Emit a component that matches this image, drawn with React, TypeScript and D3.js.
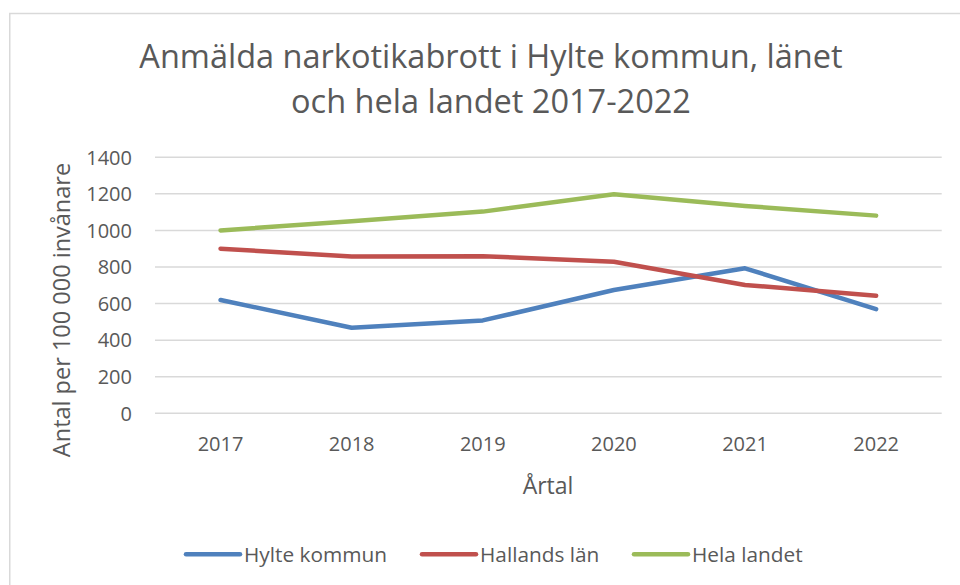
import React from "react";
import * as d3 from "d3";

const years = ["2017", "2018", "2019", "2020", "2021", "2022"];
const hylte = [620, 468, 508, 674, 793, 570];
const hallands = [900, 857, 859, 829, 702, 643];
const helaLandet = [1000, 1050, 1103, 1198, 1134, 1081];
const yTicks = [0, 200, 400, 600, 800, 1000, 1200, 1400];
const seriesNames = ["Hylte kommun", "Hallands län", "Hela landet"];
const seriesColors = ["#4F81BD", "#C0504D", "#9BBB59"];

const W = 960;
const H = 585;
const FONT = "'Open Sans', 'Liberation Sans', sans-serif";
const TEXT = "#595959";

export default function App() {
  const x = d3.scaleBand<string>().domain(years).range([155, 941.7]);
  const y = d3.scaleLinear().domain([0, 1400]).range([413.3, 157.3]);
  const series = [hylte, hallands, helaLandet];
  const line = d3
    .line<number>()
    .x((_, i) => (x(years[i]) as number) + x.bandwidth() / 2)
    .y((d) => y(d));

  const legendX = [186, 422, 634];

  return (
    <svg
      width={W}
      height={H}
      style={{ position: "absolute", left: 0, top: 0, background: "#fff" }}
      fontFamily={FONT}
    >
      <rect x={9.75} y={13.5} width={1000} height={700} fill="#fff" stroke="#d9d9d9" strokeWidth={1.5} />
      <text x={491} y={68} textAnchor="middle" fontSize={32.5} fill={TEXT}>
        Anmälda narkotikabrott i Hylte kommun, länet
      </text>
      <text x={491} y={113} textAnchor="middle" fontSize={32.5} fill={TEXT}>
        och hela landet 2017-2022
      </text>
      {yTicks.map((t) => (
        <g key={t}>
          <line x1={155} x2={941.7} y1={y(t)} y2={y(t)} stroke="#d9d9d9" strokeWidth={1.5} />
          <text x={132} y={y(t)} dy="0.36em" textAnchor="end" fontSize={20} fill={TEXT}>
            {t}
          </text>
        </g>
      ))}
      {years.map((yr) => (
        <text
          key={yr}
          x={(x(yr) as number) + x.bandwidth() / 2}
          y={451}
          textAnchor="middle"
          fontSize={20}
          fill={TEXT}
        >
          {yr}
        </text>
      ))}
      <text x={548} y={494} textAnchor="middle" fontSize={23} fill={TEXT}>
        Årtal
      </text>
      <text
        transform={`translate(70,310) rotate(-90)`}
        textAnchor="middle"
        fontSize={23.5}
        fill={TEXT}
      >
        Antal per 100 000 invånare
      </text>
      {series.map((s, i) => (
        <path
          key={i}
          d={line(s) as string}
          fill="none"
          stroke={seriesColors[i]}
          strokeWidth={4.5}
          strokeLinecap="round"
          strokeLinejoin="round"
        />
      ))}
      {seriesNames.map((n, i) => (
        <g key={n}>
          <line
            x1={legendX[i]}
            x2={legendX[i] + 54}
            y1={554.3}
            y2={554.3}
            stroke={seriesColors[i]}
            strokeWidth={4.5}
            strokeLinecap="round"
          />
          <text x={legendX[i] + 58} y={561.5} fontSize={20.8} fill={TEXT}>
            {n}
          </text>
        </g>
      ))}
    </svg>
  );
}
